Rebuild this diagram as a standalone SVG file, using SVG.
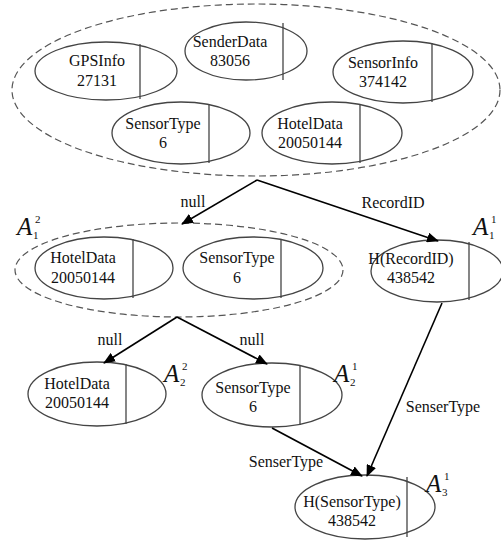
<svg xmlns="http://www.w3.org/2000/svg" width="501" height="540" viewBox="0 0 501 540">
<defs>
<marker id="ah" markerWidth="12" markerHeight="10" refX="11" refY="5" orient="auto" markerUnits="userSpaceOnUse">
<path d="M0,0 L12,5 L0,10 Z" fill="#000"/>
</marker>
<style>
.n{fill:#fff;stroke:#444;stroke-width:1.3}
.d{fill:none;stroke:#555;stroke-width:1.2;stroke-dasharray:7,4}
.v{stroke:#444;stroke-width:1.3}
text{font-family:"Liberation Serif","Times New Roman",serif;font-size:16px;fill:#111;text-anchor:middle}
.e{stroke:#000;stroke-width:1.6;fill:none;marker-end:url(#ah)}
.A{font-style:italic;font-size:25px;text-anchor:start}
.s{font-size:11px;text-anchor:start}
</style>
</defs>
<rect width="501" height="540" fill="#fff"/>
<g id="group-top"><ellipse class="d" cx="256" cy="90" rx="244" ry="86"/></g>
<g id="group-mid"><ellipse class="d" cx="179" cy="270" rx="164" ry="47"/></g>
<g id="n-gps"><ellipse class="n" cx="106" cy="71" rx="71" ry="29"/><line class="v" x1="140" y1="44" x2="140" y2="99"/><text x="97" y="66">GPSInfo</text><text x="97" y="86">27131</text></g>
<g id="n-sender"><ellipse class="n" cx="246" cy="51" rx="61" ry="29"/><line class="v" x1="283" y1="23" x2="283" y2="80"/><text x="230" y="47">SenderData</text><text x="230" y="66">83056</text></g>
<g id="n-sensorinfo"><ellipse class="n" cx="403" cy="72" rx="70" ry="31"/><line class="v" x1="432" y1="43" x2="432" y2="102"/><text x="383" y="68">SensorInfo</text><text x="383" y="87">374142</text></g>
<g id="n-sensortype-top"><ellipse class="n" cx="181" cy="133" rx="69" ry="31"/><line class="v" x1="209" y1="104" x2="209" y2="163"/><text x="163" y="129">SensorType</text><text x="163" y="148">6</text></g>
<g id="n-hotel-top"><ellipse class="n" cx="332" cy="133" rx="70" ry="31"/><line class="v" x1="360" y1="104" x2="360" y2="163"/><text x="310" y="129">HotelData</text><text x="310" y="148">20050144</text></g>
<g id="n-hotel-mid"><ellipse class="n" cx="104" cy="268" rx="69" ry="31"/><line class="v" x1="133" y1="239" x2="133" y2="298"/><text x="83" y="263">HotelData</text><text x="83" y="283">20050144</text></g>
<g id="n-sensortype-mid"><ellipse class="n" cx="253" cy="268" rx="70" ry="31"/><line class="v" x1="281" y1="239" x2="281" y2="298"/><text x="237" y="263">SensorType</text><text x="237" y="283">6</text></g>
<g id="n-hrecord"><ellipse class="n" cx="437" cy="271" rx="66" ry="31"/><line class="v" x1="469" y1="242" x2="469" y2="300"/><text x="411" y="264">H(RecordID)</text><text x="411" y="283">438542</text></g>
<g id="n-hotel-bot"><ellipse class="n" cx="97" cy="394" rx="69" ry="32"/><line class="v" x1="126" y1="364" x2="126" y2="424"/><text x="77" y="389">HotelData</text><text x="77" y="408">20050144</text></g>
<g id="n-sensortype-bot"><ellipse class="n" cx="272" cy="395" rx="70" ry="32"/><line class="v" x1="300" y1="365" x2="300" y2="425"/><text x="253" y="393">SensorType</text><text x="253" y="412">6</text></g>
<g id="n-hsensor"><ellipse class="n" cx="365" cy="507" rx="70" ry="32"/><line class="v" x1="407" y1="477" x2="407" y2="537"/><text x="352" y="507">H(SensorType)</text><text x="352" y="526">438542</text></g>
<g id="labels">
<text class="A" x="17" y="235">A</text><text class="s" x="33" y="239">1</text><text class="s" x="35" y="223">2</text>
<text class="A" x="473" y="235">A</text><text class="s" x="489" y="239">1</text><text class="s" x="491" y="223">1</text>
<text class="A" x="164" y="382">A</text><text class="s" x="180" y="386">2</text><text class="s" x="182" y="370">2</text>
<text class="A" x="334" y="382">A</text><text class="s" x="350" y="386">2</text><text class="s" x="352" y="370">1</text>
<text class="A" x="426" y="492">A</text><text class="s" x="442" y="496">3</text><text class="s" x="444" y="480">1</text>
</g>
<g id="connectors">
<path class="e" d="M257,180 L182,224"/>
<path class="e" d="M257,180 L438,241"/>
<path class="e" d="M177,317 L104,363"/>
<path class="e" d="M177,317 L267,364"/>
<path class="e" d="M272,428 L362,476"/>
<path class="e" d="M442,303 L367,476"/>
<text x="193" y="207">null</text>
<text x="393" y="208">RecordID</text>
<text x="110" y="345">null</text>
<text x="252" y="345">null</text>
<text x="443" y="412">SenserType</text>
<text x="286" y="467">SenserType</text>
</g>
</svg>
